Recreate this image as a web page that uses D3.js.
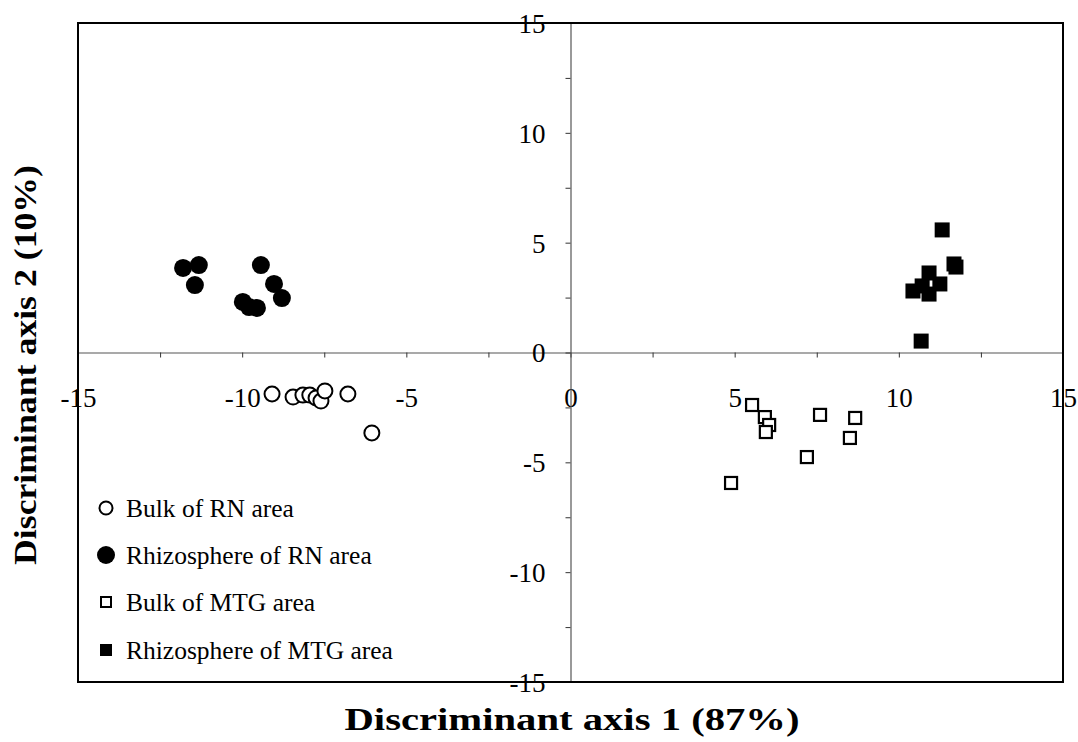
<!DOCTYPE html>
<html>
<head>
<meta charset="utf-8">
<script src="https://cdn.jsdelivr.net/npm/d3@7"></script>
<style>
  body { margin: 0; background: #fff; }
  text { font-family: "Liberation Serif", "Times New Roman", serif; }
</style>
</head>
<body>
<script>
// discriminant scores
const bulkRN_x = [-9.09, -8.45, -8.15, -7.94, -7.75, -7.60, -7.48, -6.78, -6.05];
const bulkRN_y = [-1.89, -2.03, -1.94, -1.94, -2.07, -2.21, -1.75, -1.89, -3.66];

const rhizoRN_x = [-11.80, -11.32, -11.44, -9.43, -9.03, -8.79, -9.98, -9.79, -9.55];
const rhizoRN_y = [3.85, 3.98, 3.07, 3.98, 3.12, 2.48, 2.30, 2.07, 2.03];

const bulkMTG_x = [5.53, 5.92, 6.05, 5.95, 7.60, 8.67, 8.51, 7.20, 4.89];
const bulkMTG_y = [-2.39, -2.94, -3.30, -3.62, -2.84, -2.98, -3.89, -4.76, -5.94];

const rhizoMTG_x = [11.32, 11.68, 11.74, 10.92, 11.25, 10.43, 10.71, 10.92, 10.68];
const rhizoMTG_y = [5.58, 4.03, 3.89, 3.62, 3.12, 2.80, 3.03, 2.66, 0.52];

const seriesNames = ["Bulk of RN area", "Rhizosphere of RN area", "Bulk of MTG area", "Rhizosphere of MTG area"];
const tickValues = [-15, -12.5, -10, -7.5, -5, -2.5, 0, 2.5, 5, 7.5, 10, 12.5, 15];

const W = 1078, H = 742;
const svg = d3.select("body").append("svg")
    .attr("width", W)
    .attr("height", H);

const x = d3.scaleLinear().domain([-15, 15]).range([78, 1063]);
const y = d3.scaleLinear().domain([-15, 15]).range([682, 23]);

// plain hyphen for negatives, only label multiples of 5
const fmt = d => (d % 5 === 0 ? String(d) : "");

// x axis through y = 0
const gx = svg.append("g")
    .attr("transform", `translate(0,${y(0)})`)
    .call(d3.axisBottom(x).tickValues(tickValues).tickSizeInner(5).tickSizeOuter(0)
        .tickPadding(30).tickFormat(fmt));

// y axis through x = 0
const gy = svg.append("g")
    .attr("transform", `translate(${x(0)},0)`)
    .call(d3.axisLeft(y).tickValues(tickValues).tickSizeInner(5).tickSizeOuter(0)
        .tickPadding(20).tickFormat(fmt));

[gx, gy].forEach(g => {
  g.select(".domain").attr("stroke", "#555").attr("stroke-width", 1.2);
  g.selectAll(".tick line").attr("stroke", "#333");
  g.selectAll(".tick text")
    .attr("font-family", "Liberation Serif, serif")
    .attr("font-size", 27)
    .attr("fill", "#000");
});
gy.selectAll(".tick text").attr("dy", "0.35em");

// plot frame
svg.append("rect")
    .attr("x", x(-15))
    .attr("y", y(15))
    .attr("width", x(15) - x(-15))
    .attr("height", y(-15) - y(15))
    .attr("fill", "none")
    .attr("stroke", "#000")
    .attr("stroke-width", 2);

// points
const pts = (xs, ys) => xs.map((v, i) => ({x: v, y: ys[i]}));

svg.selectAll("rhizoRN")
  .data(pts(rhizoRN_x, rhizoRN_y))
  .join("circle")
    .attr("cx", d => x(d.x))
    .attr("cy", d => y(d.y))
    .attr("r", 9)
    .attr("fill", "#000");

svg.selectAll("bulkRN")
  .data(pts(bulkRN_x, bulkRN_y))
  .join("circle")
    .attr("cx", d => x(d.x))
    .attr("cy", d => y(d.y))
    .attr("r", 7.5)
    .attr("fill", "#fff")
    .attr("stroke", "#000")
    .attr("stroke-width", 2);

svg.selectAll("bulkMTG")
  .data(pts(bulkMTG_x, bulkMTG_y))
  .join("rect")
    .attr("x", d => x(d.x) - 6)
    .attr("y", d => y(d.y) - 6)
    .attr("width", 12)
    .attr("height", 12)
    .attr("fill", "#fff")
    .attr("stroke", "#000")
    .attr("stroke-width", 2.2);

svg.selectAll("rhizoMTG")
  .data(pts(rhizoMTG_x, rhizoMTG_y))
  .join("rect")
    .attr("x", d => x(d.x) - 7.5)
    .attr("y", d => y(d.y) - 7.5)
    .attr("width", 15)
    .attr("height", 15)
    .attr("fill", "#000");

// legend
const legend = svg.append("g");
const rowY = [508, 555, 602, 650];
seriesNames.forEach((name, i) => {
  const cy = rowY[i], cx = 106;
  if (i === 0) {
    legend.append("circle").attr("cx", cx).attr("cy", cy).attr("r", 6.5)
      .attr("fill", "#fff").attr("stroke", "#000").attr("stroke-width", 2);
  } else if (i === 1) {
    legend.append("circle").attr("cx", cx).attr("cy", cy).attr("r", 9).attr("fill", "#000");
  } else if (i === 2) {
    legend.append("rect").attr("x", cx - 5).attr("y", cy - 5).attr("width", 10).attr("height", 10)
      .attr("fill", "#fff").attr("stroke", "#000").attr("stroke-width", 2);
  } else {
    legend.append("rect").attr("x", cx - 6).attr("y", cy - 6).attr("width", 12).attr("height", 12)
      .attr("fill", "#000");
  }
  legend.append("text")
    .attr("x", 126)
    .attr("y", cy)
    .attr("dy", "0.35em")
    .attr("font-size", 25.5)
    .text(name);
});

// axis titles
svg.append("text")
    .attr("x", 572)
    .attr("y", 730)
    .attr("text-anchor", "middle")
    .attr("font-size", 31)
    .attr("font-weight", "bold")
    .attr("textLength", 455)
    .attr("lengthAdjust", "spacingAndGlyphs")
    .text("Discriminant axis 1 (87%)");

svg.append("text")
    .attr("transform", `translate(36,365) rotate(-90)`)
    .attr("text-anchor", "middle")
    .attr("font-size", 31)
    .attr("font-weight", "bold")
    .attr("textLength", 400)
    .attr("lengthAdjust", "spacingAndGlyphs")
    .text("Discriminant axis 2 (10%)");
</script>
</body>
</html>
